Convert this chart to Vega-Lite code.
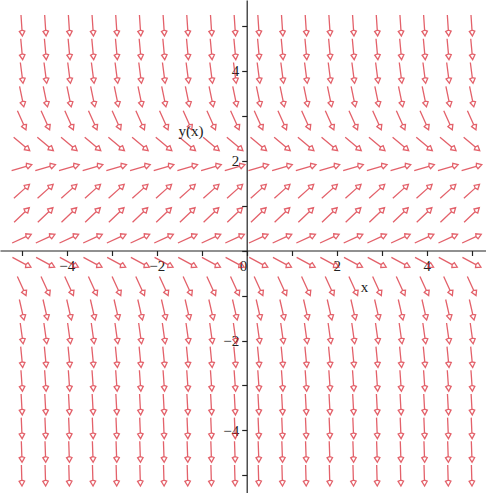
{
  "$schema": "https://vega.github.io/schema/vega-lite/v6.json",
  "width": 486,
  "height": 493,
  "padding": 0,
  "autosize": {"type": "none"},
  "background": "white",
  "config": {
    "view": {"stroke": null},
    "axis": {
      "grid": false,
      "title": null,
      "domainColor": "#222222",
      "domainWidth": 1.2,
      "tickColor": "#222222",
      "tickWidth": 1.2,
      "tickSize": 5,
      "labelFont": "Liberation Serif",
      "labelFontSize": 15,
      "labelColor": "#222222"
    }
  },
  "datasets": {
    "field": [
      {"x":-5,"y":5,"dir":86.2},{"x":-4.474,"y":5,"dir":86.2},{"x":-3.947,"y":5,"dir":86.2},{"x":-3.421,"y":5,"dir":86.2},{"x":-2.895,"y":5,"dir":86.2},{"x":-2.368,"y":5,"dir":86.2},{"x":-1.842,"y":5,"dir":86.2},{"x":-1.316,"y":5,"dir":86.2},{"x":-0.789,"y":5,"dir":86.2},{"x":-0.263,"y":5,"dir":86.2},{"x":0.263,"y":5,"dir":86.2},{"x":0.789,"y":5,"dir":86.2},{"x":1.316,"y":5,"dir":86.2},{"x":1.842,"y":5,"dir":86.2},{"x":2.368,"y":5,"dir":86.2},{"x":2.895,"y":5,"dir":86.2},{"x":3.421,"y":5,"dir":86.2},{"x":3.947,"y":5,"dir":86.2},{"x":4.474,"y":5,"dir":86.2},{"x":5,"y":5,"dir":86.2},
      {"x":-5,"y":4.474,"dir":84.8},{"x":-4.474,"y":4.474,"dir":84.8},{"x":-3.947,"y":4.474,"dir":84.8},{"x":-3.421,"y":4.474,"dir":84.8},{"x":-2.895,"y":4.474,"dir":84.8},{"x":-2.368,"y":4.474,"dir":84.8},{"x":-1.842,"y":4.474,"dir":84.8},{"x":-1.316,"y":4.474,"dir":84.8},{"x":-0.789,"y":4.474,"dir":84.8},{"x":-0.263,"y":4.474,"dir":84.8},{"x":0.263,"y":4.474,"dir":84.8},{"x":0.789,"y":4.474,"dir":84.8},{"x":1.316,"y":4.474,"dir":84.8},{"x":1.842,"y":4.474,"dir":84.8},{"x":2.368,"y":4.474,"dir":84.8},{"x":2.895,"y":4.474,"dir":84.8},{"x":3.421,"y":4.474,"dir":84.8},{"x":3.947,"y":4.474,"dir":84.8},{"x":4.474,"y":4.474,"dir":84.8},{"x":5,"y":4.474,"dir":84.8},
      {"x":-5,"y":3.947,"dir":82.6},{"x":-4.474,"y":3.947,"dir":82.6},{"x":-3.947,"y":3.947,"dir":82.6},{"x":-3.421,"y":3.947,"dir":82.6},{"x":-2.895,"y":3.947,"dir":82.6},{"x":-2.368,"y":3.947,"dir":82.6},{"x":-1.842,"y":3.947,"dir":82.6},{"x":-1.316,"y":3.947,"dir":82.6},{"x":-0.789,"y":3.947,"dir":82.6},{"x":-0.263,"y":3.947,"dir":82.6},{"x":0.263,"y":3.947,"dir":82.6},{"x":0.789,"y":3.947,"dir":82.6},{"x":1.316,"y":3.947,"dir":82.6},{"x":1.842,"y":3.947,"dir":82.6},{"x":2.368,"y":3.947,"dir":82.6},{"x":2.895,"y":3.947,"dir":82.6},{"x":3.421,"y":3.947,"dir":82.6},{"x":3.947,"y":3.947,"dir":82.6},{"x":4.474,"y":3.947,"dir":82.6},{"x":5,"y":3.947,"dir":82.6},
      {"x":-5,"y":3.421,"dir":78.4},{"x":-4.474,"y":3.421,"dir":78.4},{"x":-3.947,"y":3.421,"dir":78.4},{"x":-3.421,"y":3.421,"dir":78.4},{"x":-2.895,"y":3.421,"dir":78.4},{"x":-2.368,"y":3.421,"dir":78.4},{"x":-1.842,"y":3.421,"dir":78.4},{"x":-1.316,"y":3.421,"dir":78.4},{"x":-0.789,"y":3.421,"dir":78.4},{"x":-0.263,"y":3.421,"dir":78.4},{"x":0.263,"y":3.421,"dir":78.4},{"x":0.789,"y":3.421,"dir":78.4},{"x":1.316,"y":3.421,"dir":78.4},{"x":1.842,"y":3.421,"dir":78.4},{"x":2.368,"y":3.421,"dir":78.4},{"x":2.895,"y":3.421,"dir":78.4},{"x":3.421,"y":3.421,"dir":78.4},{"x":3.947,"y":3.421,"dir":78.4},{"x":4.474,"y":3.421,"dir":78.4},{"x":5,"y":3.421,"dir":78.4},
      {"x":-5,"y":2.895,"dir":66},{"x":-4.474,"y":2.895,"dir":66},{"x":-3.947,"y":2.895,"dir":66},{"x":-3.421,"y":2.895,"dir":66},{"x":-2.895,"y":2.895,"dir":66},{"x":-2.368,"y":2.895,"dir":66},{"x":-1.842,"y":2.895,"dir":66},{"x":-1.316,"y":2.895,"dir":66},{"x":-0.789,"y":2.895,"dir":66},{"x":-0.263,"y":2.895,"dir":66},{"x":0.263,"y":2.895,"dir":66},{"x":0.789,"y":2.895,"dir":66},{"x":1.316,"y":2.895,"dir":66},{"x":1.842,"y":2.895,"dir":66},{"x":2.368,"y":2.895,"dir":66},{"x":2.895,"y":2.895,"dir":66},{"x":3.421,"y":2.895,"dir":66},{"x":3.947,"y":2.895,"dir":66},{"x":4.474,"y":2.895,"dir":66},{"x":5,"y":2.895,"dir":66},
      {"x":-5,"y":2.368,"dir":40},{"x":-4.474,"y":2.368,"dir":40},{"x":-3.947,"y":2.368,"dir":40},{"x":-3.421,"y":2.368,"dir":40},{"x":-2.895,"y":2.368,"dir":40},{"x":-2.368,"y":2.368,"dir":40},{"x":-1.842,"y":2.368,"dir":40},{"x":-1.316,"y":2.368,"dir":40},{"x":-0.789,"y":2.368,"dir":40},{"x":-0.263,"y":2.368,"dir":40},{"x":0.263,"y":2.368,"dir":40},{"x":0.789,"y":2.368,"dir":40},{"x":1.316,"y":2.368,"dir":40},{"x":1.842,"y":2.368,"dir":40},{"x":2.368,"y":2.368,"dir":40},{"x":2.895,"y":2.368,"dir":40},{"x":3.421,"y":2.368,"dir":40},{"x":3.947,"y":2.368,"dir":40},{"x":4.474,"y":2.368,"dir":40},{"x":5,"y":2.368,"dir":40},
      {"x":-5,"y":1.842,"dir":-16.2},{"x":-4.474,"y":1.842,"dir":-16.2},{"x":-3.947,"y":1.842,"dir":-16.2},{"x":-3.421,"y":1.842,"dir":-16.2},{"x":-2.895,"y":1.842,"dir":-16.2},{"x":-2.368,"y":1.842,"dir":-16.2},{"x":-1.842,"y":1.842,"dir":-16.2},{"x":-1.316,"y":1.842,"dir":-16.2},{"x":-0.789,"y":1.842,"dir":-16.2},{"x":-0.263,"y":1.842,"dir":-16.2},{"x":0.263,"y":1.842,"dir":-16.2},{"x":0.789,"y":1.842,"dir":-16.2},{"x":1.316,"y":1.842,"dir":-16.2},{"x":1.842,"y":1.842,"dir":-16.2},{"x":2.368,"y":1.842,"dir":-16.2},{"x":2.895,"y":1.842,"dir":-16.2},{"x":3.421,"y":1.842,"dir":-16.2},{"x":3.947,"y":1.842,"dir":-16.2},{"x":4.474,"y":1.842,"dir":-16.2},{"x":5,"y":1.842,"dir":-16.2},
      {"x":-5,"y":1.316,"dir":-42},{"x":-4.474,"y":1.316,"dir":-42},{"x":-3.947,"y":1.316,"dir":-42},{"x":-3.421,"y":1.316,"dir":-42},{"x":-2.895,"y":1.316,"dir":-42},{"x":-2.368,"y":1.316,"dir":-42},{"x":-1.842,"y":1.316,"dir":-42},{"x":-1.316,"y":1.316,"dir":-42},{"x":-0.789,"y":1.316,"dir":-42},{"x":-0.263,"y":1.316,"dir":-42},{"x":0.263,"y":1.316,"dir":-42},{"x":0.789,"y":1.316,"dir":-42},{"x":1.316,"y":1.316,"dir":-42},{"x":1.842,"y":1.316,"dir":-42},{"x":2.368,"y":1.316,"dir":-42},{"x":2.895,"y":1.316,"dir":-42},{"x":3.421,"y":1.316,"dir":-42},{"x":3.947,"y":1.316,"dir":-42},{"x":4.474,"y":1.316,"dir":-42},{"x":5,"y":1.316,"dir":-42},
      {"x":-5,"y":0.789,"dir":-43.7},{"x":-4.474,"y":0.789,"dir":-43.7},{"x":-3.947,"y":0.789,"dir":-43.7},{"x":-3.421,"y":0.789,"dir":-43.7},{"x":-2.895,"y":0.789,"dir":-43.7},{"x":-2.368,"y":0.789,"dir":-43.7},{"x":-1.842,"y":0.789,"dir":-43.7},{"x":-1.316,"y":0.789,"dir":-43.7},{"x":-0.789,"y":0.789,"dir":-43.7},{"x":-0.263,"y":0.789,"dir":-43.7},{"x":0.263,"y":0.789,"dir":-43.7},{"x":0.789,"y":0.789,"dir":-43.7},{"x":1.316,"y":0.789,"dir":-43.7},{"x":1.842,"y":0.789,"dir":-43.7},{"x":2.368,"y":0.789,"dir":-43.7},{"x":2.895,"y":0.789,"dir":-43.7},{"x":3.421,"y":0.789,"dir":-43.7},{"x":3.947,"y":0.789,"dir":-43.7},{"x":4.474,"y":0.789,"dir":-43.7},{"x":5,"y":0.789,"dir":-43.7},
      {"x":-5,"y":0.263,"dir":-24.5},{"x":-4.474,"y":0.263,"dir":-24.5},{"x":-3.947,"y":0.263,"dir":-24.5},{"x":-3.421,"y":0.263,"dir":-24.5},{"x":-2.895,"y":0.263,"dir":-24.5},{"x":-2.368,"y":0.263,"dir":-24.5},{"x":-1.842,"y":0.263,"dir":-24.5},{"x":-1.316,"y":0.263,"dir":-24.5},{"x":-0.789,"y":0.263,"dir":-24.5},{"x":-0.263,"y":0.263,"dir":-24.5},{"x":0.263,"y":0.263,"dir":-24.5},{"x":0.789,"y":0.263,"dir":-24.5},{"x":1.316,"y":0.263,"dir":-24.5},{"x":1.842,"y":0.263,"dir":-24.5},{"x":2.368,"y":0.263,"dir":-24.5},{"x":2.895,"y":0.263,"dir":-24.5},{"x":3.421,"y":0.263,"dir":-24.5},{"x":3.947,"y":0.263,"dir":-24.5},{"x":4.474,"y":0.263,"dir":-24.5},{"x":5,"y":0.263,"dir":-24.5},
      {"x":-5,"y":-0.263,"dir":28},{"x":-4.474,"y":-0.263,"dir":28},{"x":-3.947,"y":-0.263,"dir":28},{"x":-3.421,"y":-0.263,"dir":28},{"x":-2.895,"y":-0.263,"dir":28},{"x":-2.368,"y":-0.263,"dir":28},{"x":-1.842,"y":-0.263,"dir":28},{"x":-1.316,"y":-0.263,"dir":28},{"x":-0.789,"y":-0.263,"dir":28},{"x":-0.263,"y":-0.263,"dir":28},{"x":0.263,"y":-0.263,"dir":28},{"x":0.789,"y":-0.263,"dir":28},{"x":1.316,"y":-0.263,"dir":28},{"x":1.842,"y":-0.263,"dir":28},{"x":2.368,"y":-0.263,"dir":28},{"x":2.895,"y":-0.263,"dir":28},{"x":3.421,"y":-0.263,"dir":28},{"x":3.947,"y":-0.263,"dir":28},{"x":4.474,"y":-0.263,"dir":28},{"x":5,"y":-0.263,"dir":28},
      {"x":-5,"y":-0.789,"dir":65.6},{"x":-4.474,"y":-0.789,"dir":65.6},{"x":-3.947,"y":-0.789,"dir":65.6},{"x":-3.421,"y":-0.789,"dir":65.6},{"x":-2.895,"y":-0.789,"dir":65.6},{"x":-2.368,"y":-0.789,"dir":65.6},{"x":-1.842,"y":-0.789,"dir":65.6},{"x":-1.316,"y":-0.789,"dir":65.6},{"x":-0.789,"y":-0.789,"dir":65.6},{"x":-0.263,"y":-0.789,"dir":65.6},{"x":0.263,"y":-0.789,"dir":65.6},{"x":0.789,"y":-0.789,"dir":65.6},{"x":1.316,"y":-0.789,"dir":65.6},{"x":1.842,"y":-0.789,"dir":65.6},{"x":2.368,"y":-0.789,"dir":65.6},{"x":2.895,"y":-0.789,"dir":65.6},{"x":3.421,"y":-0.789,"dir":65.6},{"x":3.947,"y":-0.789,"dir":65.6},{"x":4.474,"y":-0.789,"dir":65.6},{"x":5,"y":-0.789,"dir":65.6},
      {"x":-5,"y":-1.316,"dir":77.1},{"x":-4.474,"y":-1.316,"dir":77.1},{"x":-3.947,"y":-1.316,"dir":77.1},{"x":-3.421,"y":-1.316,"dir":77.1},{"x":-2.895,"y":-1.316,"dir":77.1},{"x":-2.368,"y":-1.316,"dir":77.1},{"x":-1.842,"y":-1.316,"dir":77.1},{"x":-1.316,"y":-1.316,"dir":77.1},{"x":-0.789,"y":-1.316,"dir":77.1},{"x":-0.263,"y":-1.316,"dir":77.1},{"x":0.263,"y":-1.316,"dir":77.1},{"x":0.789,"y":-1.316,"dir":77.1},{"x":1.316,"y":-1.316,"dir":77.1},{"x":1.842,"y":-1.316,"dir":77.1},{"x":2.368,"y":-1.316,"dir":77.1},{"x":2.895,"y":-1.316,"dir":77.1},{"x":3.421,"y":-1.316,"dir":77.1},{"x":3.947,"y":-1.316,"dir":77.1},{"x":4.474,"y":-1.316,"dir":77.1},{"x":5,"y":-1.316,"dir":77.1},
      {"x":-5,"y":-1.842,"dir":82},{"x":-4.474,"y":-1.842,"dir":82},{"x":-3.947,"y":-1.842,"dir":82},{"x":-3.421,"y":-1.842,"dir":82},{"x":-2.895,"y":-1.842,"dir":82},{"x":-2.368,"y":-1.842,"dir":82},{"x":-1.842,"y":-1.842,"dir":82},{"x":-1.316,"y":-1.842,"dir":82},{"x":-0.789,"y":-1.842,"dir":82},{"x":-0.263,"y":-1.842,"dir":82},{"x":0.263,"y":-1.842,"dir":82},{"x":0.789,"y":-1.842,"dir":82},{"x":1.316,"y":-1.842,"dir":82},{"x":1.842,"y":-1.842,"dir":82},{"x":2.368,"y":-1.842,"dir":82},{"x":2.895,"y":-1.842,"dir":82},{"x":3.421,"y":-1.842,"dir":82},{"x":3.947,"y":-1.842,"dir":82},{"x":4.474,"y":-1.842,"dir":82},{"x":5,"y":-1.842,"dir":82},
      {"x":-5,"y":-2.368,"dir":84.5},{"x":-4.474,"y":-2.368,"dir":84.5},{"x":-3.947,"y":-2.368,"dir":84.5},{"x":-3.421,"y":-2.368,"dir":84.5},{"x":-2.895,"y":-2.368,"dir":84.5},{"x":-2.368,"y":-2.368,"dir":84.5},{"x":-1.842,"y":-2.368,"dir":84.5},{"x":-1.316,"y":-2.368,"dir":84.5},{"x":-0.789,"y":-2.368,"dir":84.5},{"x":-0.263,"y":-2.368,"dir":84.5},{"x":0.263,"y":-2.368,"dir":84.5},{"x":0.789,"y":-2.368,"dir":84.5},{"x":1.316,"y":-2.368,"dir":84.5},{"x":1.842,"y":-2.368,"dir":84.5},{"x":2.368,"y":-2.368,"dir":84.5},{"x":2.895,"y":-2.368,"dir":84.5},{"x":3.421,"y":-2.368,"dir":84.5},{"x":3.947,"y":-2.368,"dir":84.5},{"x":4.474,"y":-2.368,"dir":84.5},{"x":5,"y":-2.368,"dir":84.5},
      {"x":-5,"y":-2.895,"dir":86},{"x":-4.474,"y":-2.895,"dir":86},{"x":-3.947,"y":-2.895,"dir":86},{"x":-3.421,"y":-2.895,"dir":86},{"x":-2.895,"y":-2.895,"dir":86},{"x":-2.368,"y":-2.895,"dir":86},{"x":-1.842,"y":-2.895,"dir":86},{"x":-1.316,"y":-2.895,"dir":86},{"x":-0.789,"y":-2.895,"dir":86},{"x":-0.263,"y":-2.895,"dir":86},{"x":0.263,"y":-2.895,"dir":86},{"x":0.789,"y":-2.895,"dir":86},{"x":1.316,"y":-2.895,"dir":86},{"x":1.842,"y":-2.895,"dir":86},{"x":2.368,"y":-2.895,"dir":86},{"x":2.895,"y":-2.895,"dir":86},{"x":3.421,"y":-2.895,"dir":86},{"x":3.947,"y":-2.895,"dir":86},{"x":4.474,"y":-2.895,"dir":86},{"x":5,"y":-2.895,"dir":86},
      {"x":-5,"y":-3.421,"dir":86.9},{"x":-4.474,"y":-3.421,"dir":86.9},{"x":-3.947,"y":-3.421,"dir":86.9},{"x":-3.421,"y":-3.421,"dir":86.9},{"x":-2.895,"y":-3.421,"dir":86.9},{"x":-2.368,"y":-3.421,"dir":86.9},{"x":-1.842,"y":-3.421,"dir":86.9},{"x":-1.316,"y":-3.421,"dir":86.9},{"x":-0.789,"y":-3.421,"dir":86.9},{"x":-0.263,"y":-3.421,"dir":86.9},{"x":0.263,"y":-3.421,"dir":86.9},{"x":0.789,"y":-3.421,"dir":86.9},{"x":1.316,"y":-3.421,"dir":86.9},{"x":1.842,"y":-3.421,"dir":86.9},{"x":2.368,"y":-3.421,"dir":86.9},{"x":2.895,"y":-3.421,"dir":86.9},{"x":3.421,"y":-3.421,"dir":86.9},{"x":3.947,"y":-3.421,"dir":86.9},{"x":4.474,"y":-3.421,"dir":86.9},{"x":5,"y":-3.421,"dir":86.9},
      {"x":-5,"y":-3.947,"dir":87.6},{"x":-4.474,"y":-3.947,"dir":87.6},{"x":-3.947,"y":-3.947,"dir":87.6},{"x":-3.421,"y":-3.947,"dir":87.6},{"x":-2.895,"y":-3.947,"dir":87.6},{"x":-2.368,"y":-3.947,"dir":87.6},{"x":-1.842,"y":-3.947,"dir":87.6},{"x":-1.316,"y":-3.947,"dir":87.6},{"x":-0.789,"y":-3.947,"dir":87.6},{"x":-0.263,"y":-3.947,"dir":87.6},{"x":0.263,"y":-3.947,"dir":87.6},{"x":0.789,"y":-3.947,"dir":87.6},{"x":1.316,"y":-3.947,"dir":87.6},{"x":1.842,"y":-3.947,"dir":87.6},{"x":2.368,"y":-3.947,"dir":87.6},{"x":2.895,"y":-3.947,"dir":87.6},{"x":3.421,"y":-3.947,"dir":87.6},{"x":3.947,"y":-3.947,"dir":87.6},{"x":4.474,"y":-3.947,"dir":87.6},{"x":5,"y":-3.947,"dir":87.6},
      {"x":-5,"y":-4.474,"dir":88},{"x":-4.474,"y":-4.474,"dir":88},{"x":-3.947,"y":-4.474,"dir":88},{"x":-3.421,"y":-4.474,"dir":88},{"x":-2.895,"y":-4.474,"dir":88},{"x":-2.368,"y":-4.474,"dir":88},{"x":-1.842,"y":-4.474,"dir":88},{"x":-1.316,"y":-4.474,"dir":88},{"x":-0.789,"y":-4.474,"dir":88},{"x":-0.263,"y":-4.474,"dir":88},{"x":0.263,"y":-4.474,"dir":88},{"x":0.789,"y":-4.474,"dir":88},{"x":1.316,"y":-4.474,"dir":88},{"x":1.842,"y":-4.474,"dir":88},{"x":2.368,"y":-4.474,"dir":88},{"x":2.895,"y":-4.474,"dir":88},{"x":3.421,"y":-4.474,"dir":88},{"x":3.947,"y":-4.474,"dir":88},{"x":4.474,"y":-4.474,"dir":88},{"x":5,"y":-4.474,"dir":88},
      {"x":-5,"y":-5,"dir":88.4},{"x":-4.474,"y":-5,"dir":88.4},{"x":-3.947,"y":-5,"dir":88.4},{"x":-3.421,"y":-5,"dir":88.4},{"x":-2.895,"y":-5,"dir":88.4},{"x":-2.368,"y":-5,"dir":88.4},{"x":-1.842,"y":-5,"dir":88.4},{"x":-1.316,"y":-5,"dir":88.4},{"x":-0.789,"y":-5,"dir":88.4},{"x":-0.263,"y":-5,"dir":88.4},{"x":0.263,"y":-5,"dir":88.4},{"x":0.789,"y":-5,"dir":88.4},{"x":1.316,"y":-5,"dir":88.4},{"x":1.842,"y":-5,"dir":88.4},{"x":2.368,"y":-5,"dir":88.4},{"x":2.895,"y":-5,"dir":88.4},{"x":3.421,"y":-5,"dir":88.4},{"x":3.947,"y":-5,"dir":88.4},{"x":4.474,"y":-5,"dir":88.4},{"x":5,"y":-5,"dir":88.4}
    ],
    "axisNames": [
      {"x": -1.24, "y": 2.66, "name": "y(x)"},
      {"x": 2.62, "y": -0.82, "name": "x"}
    ]
  },
  "layer": [
    {
      "data": {"name": "field"},
      "mark": {
        "type": "point",
        "shape": "M-1,0L0.45,0M0.45,0L0.55,-0.26L1,0L0.55,0.26Z",
        "filled": false,
        "stroke": "#d81f2c",
        "strokeWidth": 1.3,
        "size": 440
      },
      "encoding": {
        "x": {
          "field": "x",
          "type": "quantitative",
          "scale": {"domain": [-5.482, 5.318], "nice": false, "zero": false},
          "axis": {
            "orient": "bottom",
            "offset": -242.5,
            "values": [-5, -4, -3, -2, -1, 0, 1, 2, 3, 4, 5],
            "labelExpr": "datum.value % 2 === 0 ? datum.label : ''",
            "labelAlign": {"condition": {"test": "datum.value === 0", "value": "right"}, "value": "center"},
            "labelPadding": 3
          }
        },
        "y": {
          "field": "y",
          "type": "quantitative",
          "scale": {"domain": [-5.389, 5.567], "nice": false, "zero": false},
          "axis": {
            "orient": "left",
            "offset": -246.7,
            "values": [-5, -4, -3, -2, -1, 0, 1, 2, 3, 4, 5],
            "labelExpr": "datum.value % 2 === 0 && datum.value !== 0 ? datum.label : ''",
            "labelPadding": 3
          }
        },
        "angle": {"field": "dir", "type": "quantitative", "scale": null}
      }
    },
    {
      "data": {"name": "axisNames"},
      "mark": {"type": "text", "font": "Liberation Serif", "fontSize": 15, "color": "#222222"},
      "encoding": {
        "x": {"field": "x", "type": "quantitative"},
        "y": {"field": "y", "type": "quantitative"},
        "text": {"field": "name"}
      }
    }
  ]
}
